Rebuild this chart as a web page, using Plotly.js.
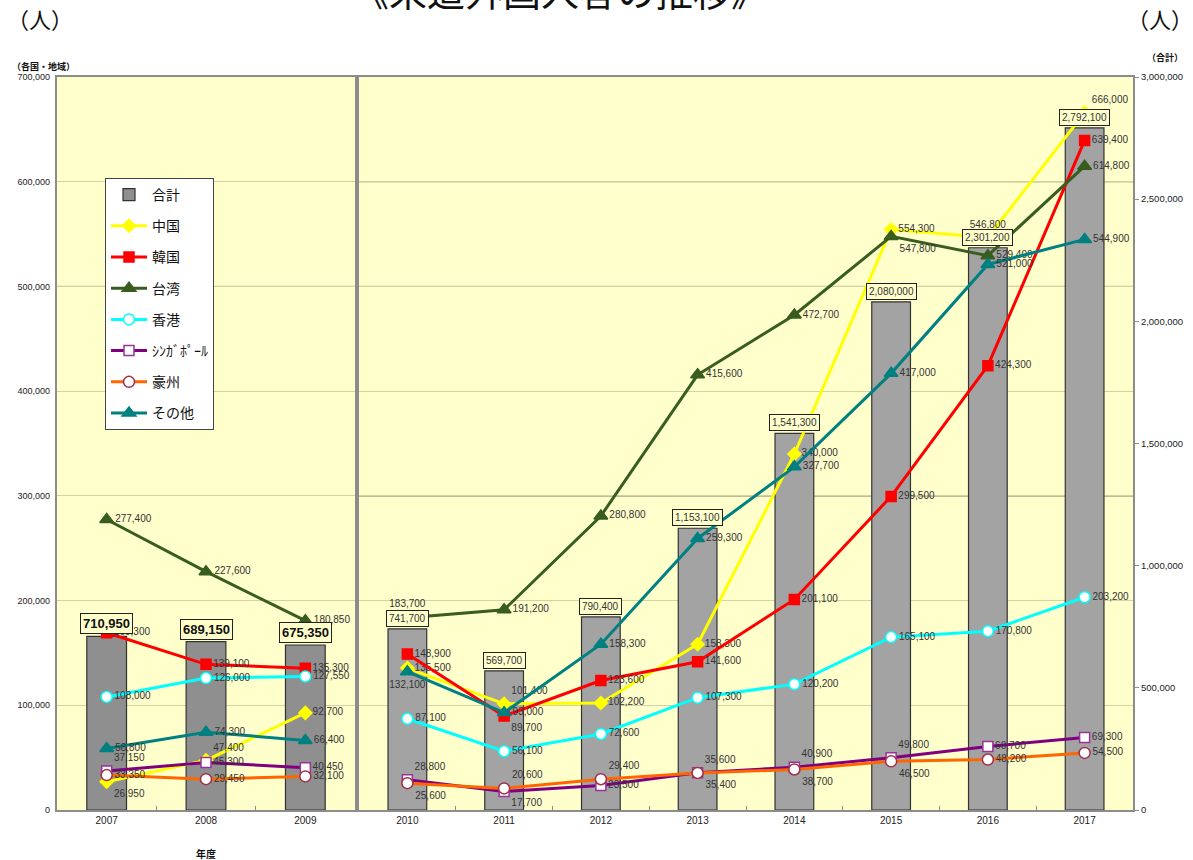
<!DOCTYPE html>
<html>
<head>
<meta charset="utf-8">
<script src="https://cdn.plot.ly/plotly-3.0.1.min.js"></script>
<style>
  html, body { margin: 0; padding: 0; background: #ffffff; }
  #chart { width: 1193px; height: 860px; }
</style>
</head>
<body>
<div id="chart"></div>
<script>
// 年度 (2007-2009 left panel, 2010-2017 right panel)
const years = ['2007', '2008', '2009', '2010', '2011', '2012', '2013', '2014', '2015', '2016', '2017'];
const splitAt = 3;

// 合計 (right axis)
const total = [710950, 689150, 675350, 741700, 569700, 790400, 1153100, 1541300, 2080000, 2301200, 2792100];

// 各国・地域 (left axis)
const china     = [26950, 47400, 92700, 135500, 101400, 102200, 158300, 340000, 554300, 546800, 666000];
const korea     = [169300, 139100, 135300, 148900, 89700, 123600, 141600, 201100, 299500, 424300, 639400];
const taiwan    = [277400, 227600, 180850, 183700, 191200, 280800, 415600, 472700, 547800, 529400, 614800];
const hongkong  = [108000, 126000, 127550, 87100, 56100, 72600, 107300, 120200, 165100, 170800, 203200];
const singapore = [37150, 45300, 40450, 28800, 17700, 23500, 35600, 40900, 49800, 60700, 69300];
const australia = [33350, 29450, 32100, 25600, 20600, 29400, 35400, 38700, 46500, 48200, 54500];
const others    = [58800, 74300, 66400, 132100, 93000, 158300, 259300, 327700, 417000, 521000, 544900];

// axis ticks
const leftTicks  = [0, 100000, 200000, 300000, 400000, 500000, 600000, 700000];
const rightTicks = [0, 500000, 1000000, 1500000, 2000000, 2500000, 3000000];

// ---- styling ----
const W = 1193, H = 860;
const M = { l: 57, r: 60, t: 77, b: 50 };
const plotW = W - M.l - M.r, plotH = H - M.t - M.b;
const px = x => (x - M.l) / plotW;
const py = y => (H - M.b - y) / plotH;
const leftEnd = px(355), rightStart = px(359);

const numFont = 'Liberation Sans, Arial, Noto Sans CJK JP, sans-serif';
const jpFont = 'Noto Sans CJK JP, sans-serif';
const fmt = v => v.toLocaleString('en-US');

const R = 'middle right', TR = 'top right', BR = 'bottom right', TC = 'top center', BC = 'bottom center';

const series = [
  { name: '中国', data: china, color: '#ffff00', symbol: 'diamond', size: 10, fill: '#ffff00', mline: '#ffff00',
    pos: [BR, TR, R, R, TR, R, R, R, R, TC, TR] },
  { name: '韓国', data: korea, color: '#ff0000', symbol: 'square', size: 10, fill: '#ff0000', mline: '#ff0000',
    pos: [R, R, R, R, BR, R, R, R, R, R, R] },
  { name: '台湾', data: taiwan, color: '#385d1f', symbol: 'triangle-up', size: 12, fill: '#385d1f', mline: '#385d1f',
    pos: [R, R, R, TC, R, R, R, R, BR, R, R] },
  { name: '香港', data: hongkong, color: '#00ffff', symbol: 'circle', size: 11, fill: '#ffffff', mline: '#00ffff',
    pos: [R, R, R, R, R, R, R, R, R, R, R] },
  { name: 'ｼﾝｶﾞﾎﾟｰﾙ', data: singapore, color: '#800080', symbol: 'square', size: 10, fill: '#ffffff', mline: '#993399',
    pos: [TR, R, R, TR, BR, R, TR, TR, TR, R, R] },
  { name: '豪州', data: australia, color: '#ff6600', symbol: 'circle', size: 11, fill: '#ffffff', mline: '#a0304a',
    pos: [R, R, R, BR, TR, TR, BR, BR, BR, R, R] },
  { name: 'その他', data: others, color: '#008080', symbol: 'triangle-up', size: 12, fill: '#008080', mline: '#008080',
    pos: [R, R, R, BC, R, R, R, R, R, R, R] }
];

const traces = [];

// 合計 bars, drawn on the main (3,000,000) axes so lines sit above them
[[0, splitAt, 'x', 'y', true, '#8f8f8f'], [splitAt, years.length, 'x2', 'y3', false, '#a3a3a3']].forEach(([a, b, xa, ya, leg, col]) => {
  traces.push({
    type: 'bar', name: '合計', legendgroup: 'total', showlegend: leg,
    x: years.slice(a, b), y: total.slice(a, b), xaxis: xa, yaxis: ya,
    width: 0.4,
    marker: { color: col, line: { color: '#333333', width: 1.2 } },
    hoverinfo: 'x+y'
  });
});

series.forEach((s, k) => {
  [[0, splitAt, 'x', 'y2', true], [splitAt, years.length, 'x2', 'y4', false]].forEach(([a, b, xa, ya, leg]) => {
    traces.push({
      type: 'scatter', mode: 'lines+markers+text', name: s.name,
      legendgroup: 'g' + k, showlegend: leg,
      x: years.slice(a, b), y: s.data.slice(a, b), xaxis: xa, yaxis: ya,
      text: s.data.slice(a, b).map(fmt),
      textposition: s.pos.slice(a, b),
      textfont: { family: numFont, size: 10, color: '#333333' },
      line: { color: s.color, width: 3 },
      marker: { symbol: s.symbol, size: s.size, color: s.fill, line: { color: s.mline, width: 1.5 } },
      cliponaxis: false
    });
  });
});

// 合計 value boxes (x given as category index within each panel)
const annotations = total.map((v, i) => {
  const left = i < splitAt;
  return {
    xref: left ? 'x' : 'x2', yref: left ? 'y' : 'y3',
    x: left ? i : i - splitAt, y: v, xanchor: 'center', yanchor: 'bottom', yshift: 2,
    text: left ? '<b>' + fmt(v) + '</b>' : fmt(v),
    showarrow: false,
    font: { family: numFont, size: left ? 13 : 10, color: left ? '#111111' : '#333333' },
    bgcolor: '#ffffcc', bordercolor: '#222222', borderwidth: 1, borderpad: 2
  };
});

const note = (x, y, text, size) => ({
  xref: 'paper', yref: 'paper', x: px(x), y: py(y), xanchor: 'center', yanchor: 'middle',
  text: text, showarrow: false, font: { family: jpFont, size: size, color: '#111' }
});
annotations.push(
  note(560, -11, '《来道外国人客の推移》', 38),
  note(40, 18, '（人）', 22),
  note(1160, 18, '（人）', 22),
  note(43, 66, '<b>（各国・地域）</b>', 9),
  note(1165, 58, '<b>（合計）</b>', 9),
  note(206, 853, '<b>年度</b>', 10)
);

// emphasised grid levels
const darkGridLeft = [500000];
const darkGridRight = [300000, 500000, 600000];
const shapes = [];
darkGridLeft.forEach(v => shapes.push({ type: 'line', xref: 'x domain', yref: 'y2', x0: 0, x1: 1, y0: v, y1: v,
  line: { color: '#4a4a3a', width: 1 }, layer: 'below' }));
darkGridRight.forEach(v => shapes.push({ type: 'line', xref: 'x2 domain', yref: 'y4', x0: 0, x1: 1, y0: v, y1: v,
  line: { color: '#4a4a3a', width: 1 }, layer: 'below' }));

const xCommon = {
  type: 'category', showline: true, mirror: true, linecolor: '#8c8c8c', linewidth: 2,
  ticks: 'inside', tickson: 'boundaries', ticklen: 4, tickcolor: '#8c8c8c', tickangle: 0,
  tickfont: { family: numFont, size: 10, color: '#222' }, showgrid: false, zeroline: false, fixedrange: true
};
const gridY = {
  range: [0, 700000], tickvals: leftTicks, showgrid: true, gridcolor: '#d2d2a2', gridwidth: 1,
  zeroline: false, showline: false, fixedrange: true
};
const totalY = {
  range: [0, 3000000], showgrid: false, zeroline: false, showline: true, mirror: true,
  linecolor: '#8c8c8c', linewidth: 2, fixedrange: true
};

const layout = {
  width: W, height: H, margin: M,
  paper_bgcolor: '#ffffff', plot_bgcolor: '#ffffcc',
  font: { family: numFont, color: '#222' },
  showlegend: true,
  legend: {
    x: px(105), y: py(178), xanchor: 'left', yanchor: 'top',
    bgcolor: '#ffffff', bordercolor: '#444444', borderwidth: 1,
    font: { family: jpFont, size: 14, color: '#111' },
    traceorder: 'grouped', tracegroupgap: 10, itemwidth: 36
  },
  xaxis:  Object.assign({}, xCommon, { domain: [0, leftEnd], anchor: 'y', range: [-0.5, splitAt - 0.5] }),
  xaxis2: Object.assign({}, xCommon, { domain: [rightStart, 1], anchor: 'y3', range: [-0.5, years.length - splitAt - 0.5] }),
  yaxis:  Object.assign({}, totalY, { anchor: 'x', showticklabels: false, ticks: '' }),
  yaxis2: Object.assign({}, gridY, { overlaying: 'y', anchor: 'x', side: 'left',
    tickformat: ',d', ticks: '', ticklabelstandoff: 6,
    tickfont: { family: numFont, size: 9, color: '#222' } }),
  yaxis3: Object.assign({}, totalY, { anchor: 'x2', side: 'right', tickvals: rightTicks, tickformat: ',d',
    ticks: 'outside', ticklen: 4, tickcolor: '#8c8c8c',
    tickfont: { family: numFont, size: 9.5, color: '#222' } }),
  yaxis4: Object.assign({}, gridY, { overlaying: 'y3', anchor: 'x2', side: 'left', showticklabels: false, ticks: '' }),
  annotations: annotations,
  shapes: shapes
};

Plotly.newPlot('chart', traces, layout, { displayModeBar: false, staticPlot: true });
</script>
</body>
</html>
